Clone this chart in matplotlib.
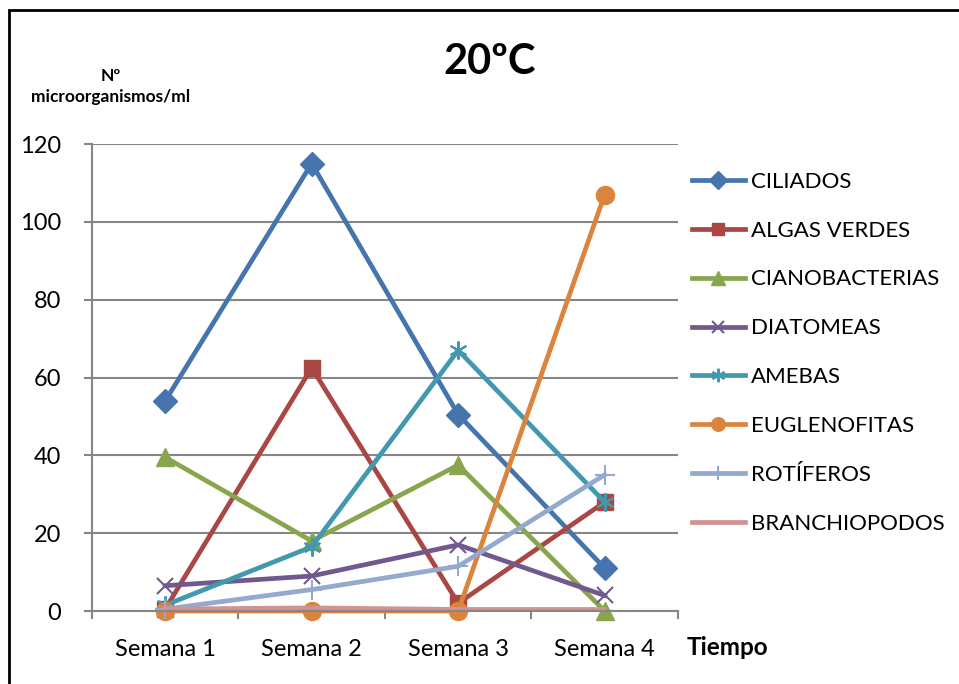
import matplotlib.pyplot as plt
from matplotlib.patches import Rectangle

plt.rcParams['font.family'] = ['Lato', 'DejaVu Sans']

semanas = ['Semana 1', 'Semana 2', 'Semana 3', 'Semana 4']

ciliados = [54, 115, 50.5, 11]
algas_verdes = [0.5, 62.5, 2, 28]
cianobacterias = [39.5, 18, 37.5, 0]
diatomeas = [6.5, 9, 17, 4]
amebas = [1.5, 16.5, 67, 28]
euglenofitas = [0, 0, 0, 107]
rotiferos = [0.5, 5.5, 11.5, 35]
branchiopodos = [0.5, 0.8, 0.4, 0.4]

series = [
    ('CILIADOS', ciliados, '#4674AC', 'D', 12),
    ('ALGAS VERDES', algas_verdes, '#AA4643', 's', 12),
    ('CIANOBACTERIAS', cianobacterias, '#89A54E', '^', 13),
    ('DIATOMEAS', diatomeas, '#71588F', 'x', 12),
    ('AMEBAS', amebas, '#4198AF', (6, 2, 0), 13),
    ('EUGLENOFITAS', euglenofitas, '#DB843D', 'o', 13),
    ('ROTÍFEROS', rotiferos, '#93A9CF', '+', 14),
    ('BRANCHIOPODOS', branchiopodos, '#D19392', None, 0),
]

fig = plt.figure(figsize=(9.59, 6.84), dpi=100)
ax = fig.add_axes([0.0959, 0.1067, 0.611, 0.6827])

x = list(range(len(semanas)))
for name, vals, col, mk, ms in series:
    thin = mk in ('x', '+', (6, 2, 0))
    ax.plot(x, vals, color=col, lw=3.4, marker=mk, ms=ms,
            mec=col, mfc=col, mew=1.5 if thin else 1, label=name, clip_on=False)

grey = '#868686'
ax.set_ylim(0, 120)
ax.set_yticks(range(0, 121, 20))
ax.set_xlim(-0.5, 3.5)
ax.set_xticks([-0.5, 0.5, 1.5, 2.5, 3.5])
ax.set_xticklabels([])
ax.set_xticks(x, minor=True)
ax.set_xticklabels(semanas, minor=True)
ax.tick_params(axis='x', which='major', length=6, width=1.5, color=grey, direction='out')
ax.tick_params(axis='x', which='minor', length=0, pad=20, labelsize=17)
ax.tick_params(axis='y', length=6, width=1.5, color=grey, pad=16, labelsize=17)
ax.grid(axis='y', color=grey, lw=1.5)
ax.set_axisbelow(True)
for s in ['top', 'right']:
    ax.spines[s].set_visible(False)
for s in ['left', 'bottom']:
    ax.spines[s].set_color(grey)
    ax.spines[s].set_linewidth(1.5)

ax.legend(loc='upper left', bbox_to_anchor=(0.712, 0.762), bbox_transform=fig.transFigure,
          frameon=False, fontsize=16, handlelength=2.4, handletextpad=0.25,
          labelspacing=1.3, borderaxespad=0, markerscale=0.75)

fig.text(0.511, 0.909, '20ºC', fontsize=30, fontweight='bold', ha='center', va='center')
fig.text(0.115, 0.874, 'Nº\nmicroorganismos/ml', fontsize=12.5, fontweight='bold',
         ha='center', va='center', linespacing=1.4)
fig.text(0.716, 0.054, 'Tiempo', fontsize=17.5, fontweight='bold', ha='left', va='center')

# outer frame
fig.patches.append(Rectangle((0.009, -0.05), 1.1, 0.985 + 0.05, transform=fig.transFigure,
                             fill=False, ec='black', lw=2))

fig.savefig('out.png', dpi=100)
